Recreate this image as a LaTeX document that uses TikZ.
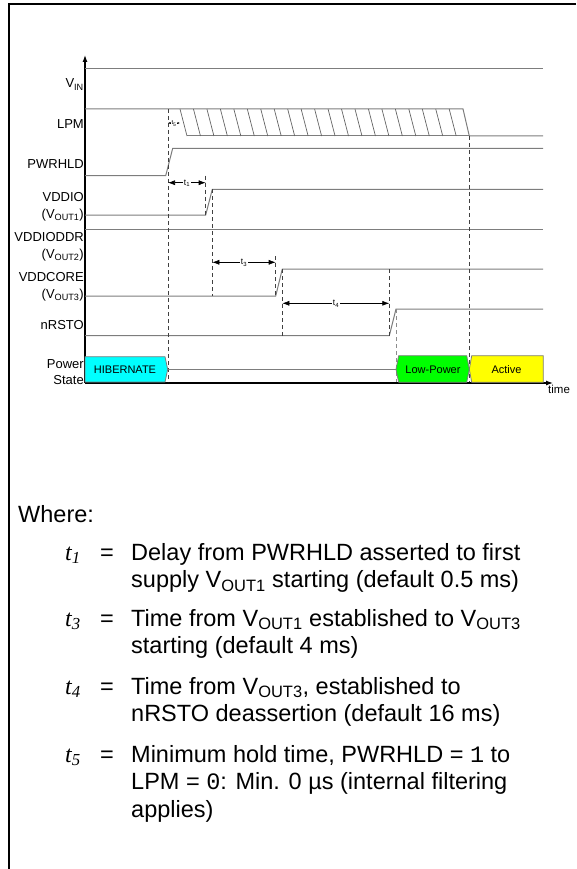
\documentclass[tikz,border=0pt]{standalone}
\usepackage{fontspec}
\setmainfont{Liberation Sans}
\newfontfamily\tnr{Liberation Serif}
\setmonofont{Liberation Mono}
\usetikzlibrary{arrows.meta}
\definecolor{sigcol}{RGB}{125,125,125}
\definecolor{hib}{RGB}{0,255,255}
\definecolor{lowp}{RGB}{0,255,0}
\definecolor{act}{RGB}{255,255,0}
\newcommand{\mysub}[1]{\textsubscript{#1}}
\begin{document}
\begin{tikzpicture}[x=1pt,y=-1pt,
  sig/.style={draw=sigcol, line width=1pt},
  hatch/.style={draw=sigcol!80!black, line width=0.7pt},
  dsh/.style={draw=black!75, line width=0.7pt, dash pattern=on 4pt off 3pt},
  dshl/.style={draw=black!45, line width=0.7pt, dash pattern=on 4pt off 3pt},
  lbl/.style={anchor=base east, inner sep=0pt, font=\fontsize{13}{14}\selectfont},
  tlbl/.style={fill=white, inner sep=0.8pt, font=\fontsize{8.5}{9}\selectfont},
  dimar/.style={draw=black, line width=0.6pt, {Latex[length=7pt,width=5pt]}-{Latex[length=7pt,width=5pt]}},
  smallar/.style={draw=black, line width=0.4pt, {Latex[length=2.5pt,width=2pt]}-{Latex[length=2.5pt,width=2pt]}},
  axis/.style={draw=black, line width=1.2pt},
  stbox/.style={draw=sigcol, line width=0.8pt},
  stxt/.style={inner sep=0pt, font=\fontsize{11}{13}\selectfont},
  txt/.style={anchor=base west, inner sep=0pt, font=\fontsize{23.5}{27}\selectfont},
  tvar/.style={anchor=base west, inner sep=0pt, font=\tnr\itshape\fontsize{24}{27}\selectfont}
]
\useasboundingbox (0,0) rectangle (576,869);
% frame (open at right and bottom)
\draw[line width=2pt] (576,4) -- (9,4) -- (9,869);

% axes
\coordinate (org) at (85,383);
\coordinate (ytop) at (85,55);
\coordinate (xend) at (553,383);
\draw[axis, -{Latex[length=7pt,width=5pt]}] (org) -- (ytop);
\draw[axis, -{Latex[length=7pt,width=5pt]}] (org) -- (xend);
\node[anchor=north west, inner sep=0pt, font=\fontsize{11.5}{13}\selectfont] (time) at (548,385) {time};

% signal labels
\node[lbl] (lvin) at (84,88) {V\mysub{IN}};
\node[lbl] (llpm) at (84,128.5) {LPM};
\node[lbl] (lpwr) at (84,168) {PWRHLD};
\node[lbl] (lvio) at (84,201) {VDDIO};
\node[lbl] (lvio2) at (84,218) {(V\mysub{OUT1})};
\node[lbl] (lddr) at (84,241.7) {VDDIODDR};
\node[lbl] (lddr2) at (84,258.5) {(V\mysub{OUT2})};
\node[lbl] (lcore) at (84,281.7) {VDDCORE};
\node[lbl] (lcore2) at (84,298) {(V\mysub{OUT3})};
\node[lbl] (lrst) at (84,329) {nRSTO};
\node[lbl] (lps) at (84,368) {Power};
\node[lbl] (lps2) at (84,384) {State};

% VIN
\draw[sig] (85,69) -- (543,69);
% LPM
\draw[sig] (85,109) -- (463,109) -- (469.3,136) -- (543,136);
\draw[sig] (187,136) -- (469.3,136);
\foreach \k in {0,...,20} \draw[hatch] ({180+13.46*\k},109) -- ({187+13.46*\k},136);
% PWRHLD
\draw[sig] (85,175.7) -- (165.7,175.7) -- (172.7,148.3) -- (543,148.3);
% VDDIO
\draw[sig] (85,215) -- (205.7,215) -- (212.3,189.3) -- (543,189.3);
% VDDIODDR
\draw[sig] (85,229) -- (543,229);
% VDDCORE
\draw[sig] (85,296) -- (275.7,296) -- (282.3,269) -- (543,269);
% nRSTO
\draw[sig] (85,335.7) -- (389.3,335.7) -- (396,309) -- (543,309);

% dashed guides
\draw[dsh] (168,109) -- (168,382);
\draw[dsh] (205.7,175.7) -- (205.7,215);
\draw[dsh] (212.3,189.3) -- (212.3,296);
\draw[dsh] (275.7,256) -- (275.7,296);
\draw[dsh] (282.3,269) -- (282.3,335.7);
\draw[dsh] (389.3,269) -- (389.3,335.7);
\draw[dshl] (396,309) -- (396,382);
\draw[dsh] (469.3,136) -- (469.3,382);

% timing arrows
\coordinate (t5a) at (168,123);
\coordinate (t5b) at (180,123);
\draw[smallar] (t5a) -- (t5b);
\node[inner sep=0.3pt, fill=white, font=\fontsize{6}{7}\selectfont] (t5l) at (174,123.5) {t\mysub{5}};
\coordinate (t1a) at (168,182.7);
\coordinate (t1b) at (205.7,182.7);
\draw[dimar] (t1a) -- (t1b);
\node[tlbl] (t1l) at (187,183) {t\mysub{1}};
\coordinate (t3a) at (212.3,262.3);
\coordinate (t3b) at (275.7,262.3);
\draw[dimar] (t3a) -- (t3b);
\node[tlbl] (t3l) at (244,262.6) {t\mysub{3}};
\coordinate (t4a) at (282.3,303.3);
\coordinate (t4b) at (389.3,303.3);
\draw[dimar] (t4a) -- (t4b);
\node[tlbl] (t4l) at (336,303.6) {t\mysub{4}};

% power state
\draw[sig] (167.7,369.3) -- (396,369.3);
\draw[stbox, fill=hib] (85,356.7) -- (165,356.7) -- (167.7,369.3) -- (165,382) -- (85,382) -- cycle;
\node[stxt] (hib) at (125,369.5) {HIBERNATE};
\draw[stbox, fill=lowp] (398.7,355.7) -- (466.7,355.7) -- (469.3,369.3) -- (466.7,382.3) -- (398.7,382.3) -- (396,369.3) -- cycle;
\node[stxt] (lp) at (433,369.5) {Low-Power};
\draw[stbox, fill=act] (471.7,355.7) -- (543.3,355.7) -- (543.3,382.3) -- (471.7,382.3) -- (469.3,369.3) -- cycle;
\node[stxt] (actv) at (506.5,369.5) {Active};

% explanation text
\node[txt] (where) at (18,522) {Where:};

\node[tvar] (v1) at (65,560) {t\mysub{1}};
\node[txt] (e1) at (100,560) {=};
\node[txt] (a1) at (131,560) {Delay from PWRHLD asserted to first};
\node[txt] (b1) at (131,587.5) {supply V\mysub{OUT1} starting (default 0.5 ms)};

\node[tvar] (v3) at (65,626) {t\mysub{3}};
\node[txt] (e3) at (100,626) {=};
\node[txt] (a3) at (131,626) {Time from V\mysub{OUT1} established to V\mysub{OUT3}};
\node[txt] (b3) at (131,653.5) {starting (default 4 ms)};

\node[tvar] (v4) at (65,694) {t\mysub{4}};
\node[txt] (e4) at (100,694) {=};
\node[txt] (a4) at (131,694) {Time from V\mysub{OUT3}, established to};
\node[txt] (b4) at (131,721.5) {nRSTO deassertion (default 16 ms)};

\node[tvar] (v5) at (65,762) {t\mysub{5}};
\node[txt] (e5) at (100,762) {=};
\node[txt] (a5) at (131,762) {Minimum hold time, PWRHLD = \texttt{1} to};
\node[txt] (b5) at (131,789.5) {LPM = \texttt{0}: Min. 0 µs (internal filtering};
\node[txt] (c5) at (131,817) {applies)};
\end{tikzpicture}
\end{document}
